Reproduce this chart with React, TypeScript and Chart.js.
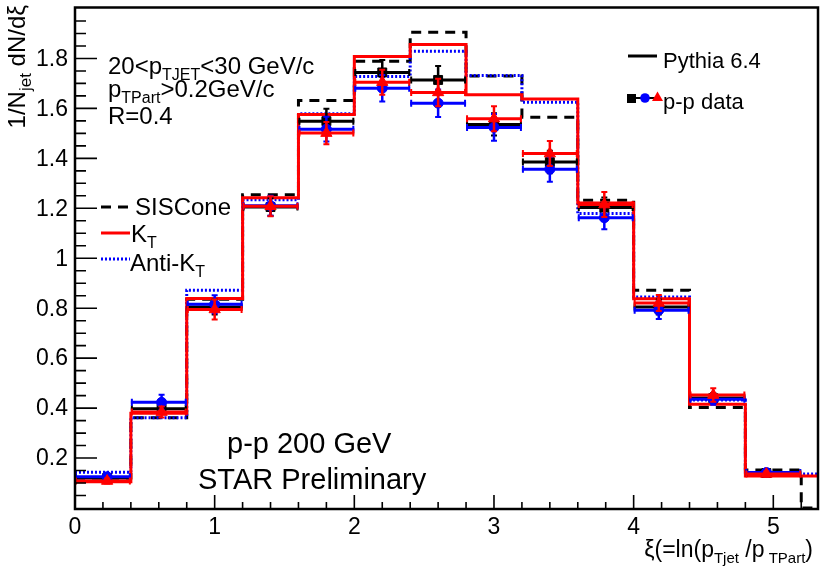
import React, { useEffect, useRef } from "react";
import { Chart, registerables } from "chart.js";
Chart.register(...registerables);

// Bin edges of the histograms (xi)
const binEdges = [0, 0.4, 0.8, 1.2, 1.6, 2.0, 2.4, 2.8, 3.2, 3.6, 4.0, 4.4, 4.8, 5.2, 5.6];

// Pythia 6.4 histograms (one value per bin)
const sisConeHist = [0.12, 0.361, 0.836, 1.254, 1.632, 1.789, 1.905, 1.73, 1.565, 1.232, 0.872, 0.402, 0.152, 0];
const kTHist = [0.105, 0.379, 0.839, 1.242, 1.576, 1.808, 1.856, 1.655, 1.638, 1.221, 0.838, 0.415, 0.128, 0.128];
const antiKTHist = [0.143, 0.361, 0.872, 1.234, 1.579, 1.728, 1.829, 1.732, 1.625, 1.179, 0.845, 0.432, 0.136, 0.136];

// p-p data points
const dataX = [0.23, 0.62, 1.0, 1.4, 1.8, 2.2, 2.6, 3.0, 3.4, 3.79, 4.18, 4.57, 4.95];
const sisConeData = [0.12, 0.397, 0.805, 1.205, 1.549, 1.744, 1.714, 1.536, 1.385, 1.203, 0.805, 0.44, 0.14];
const sisConeErr = [0.008, 0.02, 0.03, 0.035, 0.05, 0.05, 0.056, 0.045, 0.045, 0.04, 0.03, 0.02, 0.01];
const kTData = [0.108, 0.384, 0.795, 1.208, 1.501, 1.705, 1.664, 1.559, 1.419, 1.215, 0.821, 0.452, 0.136];
const kTErr = [0.01, 0.022, 0.04, 0.04, 0.045, 0.05, 0.055, 0.05, 0.05, 0.05, 0.032, 0.027, 0.01];
const antiKTData = [0.125, 0.423, 0.816, 1.21, 1.517, 1.681, 1.621, 1.524, 1.356, 1.162, 0.792, 0.435, 0.142];
const antiKTErr = [0.01, 0.03, 0.036, 0.04, 0.05, 0.053, 0.055, 0.054, 0.05, 0.046, 0.035, 0.022, 0.01];

// Axis ticks
const xMajorTicks = [0, 1, 2, 3, 4, 5];
const yMajorTicks = [0.2, 0.4, 0.6, 0.8, 1, 1.2, 1.4, 1.6, 1.8];

const FONT = '"Liberation Sans", Arial, Helvetica, sans-serif';
const RED = "#ff0000";
const BLUE = "#0000ff";
const BLACK = "#000000";

type Seg = { t: string; sub?: boolean };

function drawRich(
  ctx: CanvasRenderingContext2D,
  segs: Seg[],
  x: number,
  y: number,
  size: number,
  align: "left" | "right" | "center",
  subSize: number,
  subDy: number
) {
  ctx.textBaseline = "alphabetic";
  ctx.textAlign = "left";
  const widths = segs.map((s) => {
    ctx.font = `${s.sub ? subSize : size}px ${FONT}`;
    return ctx.measureText(s.t).width;
  });
  const total = widths.reduce((a, b) => a + b, 0);
  let cx = align === "left" ? x : align === "right" ? x - total : x - total / 2;
  segs.forEach((s, i) => {
    ctx.font = `${s.sub ? subSize : size}px ${FONT}`;
    ctx.fillText(s.t, cx, s.sub ? y + subDy : y);
    cx += widths[i];
  });
}

function histPoints(vals: number[]) {
  const pts: { x: number; y: number }[] = [];
  vals.forEach((v, i) => {
    pts.push({ x: binEdges[i], y: v });
    pts.push({ x: binEdges[i + 1], y: v });
  });
  return pts;
}

const errorBarPlugin = {
  id: "errorBars",
  beforeDatasetDraw(chart: any, args: any) {
    const ds = chart.data.datasets[args.index];
    if (!ds.errY) return;
    const ctx = chart.ctx as CanvasRenderingContext2D;
    const xs = chart.scales.x;
    const ys = chart.scales.y;
    const area = chart.chartArea;
    ctx.save();
    ctx.beginPath();
    ctx.rect(area.left, area.top, area.right - area.left, area.bottom - area.top);
    ctx.clip();
    ctx.strokeStyle = ds.borderColor;
    ds.data.forEach((p: any, i: number) => {
      const yPx = ys.getPixelForValue(p.y);
      const x0 = xs.getPixelForValue(binEdges[i]);
      const x1 = xs.getPixelForValue(binEdges[i + 1]);
      const xc = xs.getPixelForValue(p.x);
      ctx.lineWidth = 3;
      ctx.beginPath();
      ctx.moveTo(x0, yPx);
      ctx.lineTo(x1, yPx);
      ctx.stroke();
      ctx.lineWidth = 2;
      ctx.beginPath();
      ctx.moveTo(x0 + 1, yPx - 3.5);
      ctx.lineTo(x0 + 1, yPx + 3.5);
      ctx.moveTo(x1 - 1, yPx - 3.5);
      ctx.lineTo(x1 - 1, yPx + 3.5);
      ctx.stroke();
      const yTop = ys.getPixelForValue(p.y + ds.errY[i]);
      const yBot = ys.getPixelForValue(p.y - ds.errY[i]);
      ctx.lineWidth = 2.5;
      ctx.beginPath();
      ctx.moveTo(xc, yTop);
      ctx.lineTo(xc, yBot);
      ctx.stroke();
      ctx.lineWidth = 2;
      ctx.beginPath();
      ctx.moveTo(xc - 3, yTop);
      ctx.lineTo(xc + 3, yTop);
      ctx.moveTo(xc - 3, yBot);
      ctx.lineTo(xc + 3, yBot);
      ctx.stroke();
    });
    ctx.restore();
  },
};

const framePlugin = {
  id: "rootFrame",
  afterDraw(chart: any) {
    const ctx = chart.ctx as CanvasRenderingContext2D;
    const xs = chart.scales.x;
    const ys = chart.scales.y;
    const a = chart.chartArea;
    ctx.save();
    ctx.strokeStyle = BLACK;
    ctx.fillStyle = BLACK;
    ctx.lineWidth = 2.5;
    ctx.strokeRect(a.left, a.top, a.right - a.left, a.bottom - a.top);

    ctx.lineWidth = 1.6;
    ctx.beginPath();
    for (let k = 1; k < 40; k++) {
      const v = k * 0.05;
      const y = ys.getPixelForValue(v);
      if (y < a.top + 2) continue;
      const major = k % 4 === 0;
      ctx.moveTo(a.left, y);
      ctx.lineTo(a.left + (major ? 22 : 11), y);
    }
    for (let k = 1; k <= 26; k++) {
      const v = k * 0.2;
      const x = xs.getPixelForValue(v);
      if (x > a.right - 2) continue;
      const major = k % 5 === 0;
      ctx.moveTo(x, a.bottom);
      ctx.lineTo(x, a.bottom - (major ? 14 : 7));
    }
    ctx.stroke();

    ctx.font = `23px ${FONT}`;
    ctx.textAlign = "right";
    ctx.textBaseline = "middle";
    yMajorTicks.forEach((v) => {
      ctx.fillText(String(v), a.left - 7, ys.getPixelForValue(v) + 1);
    });
    ctx.textAlign = "center";
    ctx.textBaseline = "alphabetic";
    xMajorTicks.forEach((v) => {
      ctx.fillText(String(v), xs.getPixelForValue(v), a.bottom + 25);
    });

    drawRich(
      ctx,
      [
        { t: "ξ(=ln(p" },
        { t: "Tjet", sub: true },
        { t: " /p" },
        { t: " TPart", sub: true },
        { t: ")" },
      ],
      813,
      557,
      23,
      "right",
      15,
      6
    );

    ctx.save();
    ctx.translate(25, 5);
    ctx.rotate(-Math.PI / 2);
    drawRich(
      ctx,
      [{ t: "1/N" }, { t: "jet", sub: true }, { t: " dN/dξ" }],
      0,
      0,
      24,
      "right",
      17,
      6
    );
    ctx.restore();

    drawRich(ctx, [{ t: "20<p" }, { t: "TJET", sub: true }, { t: "<30 GeV/c" }], 108, 74, 24, "left", 16, 6);
    drawRich(ctx, [{ t: "p" }, { t: "TPart", sub: true }, { t: ">0.2GeV/c" }], 108, 97, 24, "left", 16, 6);
    drawRich(ctx, [{ t: "R=0.4" }], 108, 124, 24, "left", 16, 6);

    ctx.lineWidth = 3;
    ctx.strokeStyle = BLACK;
    ctx.setLineDash([10, 7]);
    ctx.beginPath();
    ctx.moveTo(101, 207);
    ctx.lineTo(129, 207);
    ctx.stroke();
    ctx.setLineDash([]);
    ctx.strokeStyle = RED;
    ctx.beginPath();
    ctx.moveTo(101, 233);
    ctx.lineTo(130, 233);
    ctx.stroke();
    ctx.strokeStyle = BLUE;
    ctx.setLineDash([2, 2]);
    ctx.beginPath();
    ctx.moveTo(101, 259);
    ctx.lineTo(130, 259);
    ctx.stroke();
    ctx.setLineDash([]);
    ctx.fillStyle = BLACK;
    drawRich(ctx, [{ t: "SISCone" }], 135, 215, 24, "left", 16, 6);
    drawRich(ctx, [{ t: "K" }, { t: "T", sub: true }], 131, 242, 24, "left", 16, 6);
    drawRich(ctx, [{ t: "Anti-K" }, { t: "T", sub: true }], 130, 271, 24, "left", 16, 6);

    ctx.strokeStyle = BLACK;
    ctx.lineWidth = 3;
    ctx.beginPath();
    ctx.moveTo(628, 56);
    ctx.lineTo(657, 56);
    ctx.stroke();
    drawRich(ctx, [{ t: "Pythia 6.4" }], 663, 68, 22, "left", 15, 5);
    ctx.lineWidth = 2;
    ctx.beginPath();
    ctx.moveTo(631, 98);
    ctx.lineTo(657, 98);
    ctx.stroke();
    ctx.fillStyle = BLACK;
    ctx.fillRect(627, 94, 9, 9);
    ctx.fillStyle = BLUE;
    ctx.beginPath();
    ctx.arc(645, 98, 4.8, 0, Math.PI * 2);
    ctx.fill();
    ctx.fillStyle = RED;
    ctx.beginPath();
    ctx.moveTo(657.5, 91.5);
    ctx.lineTo(663, 101);
    ctx.lineTo(652, 101);
    ctx.closePath();
    ctx.fill();
    ctx.fillStyle = BLACK;
    drawRich(ctx, [{ t: "p-p data" }], 663, 109, 22, "left", 15, 5);

    drawRich(ctx, [{ t: "p-p 200 GeV" }], 227, 453, 29, "left", 20, 6);
    drawRich(ctx, [{ t: "STAR Preliminary" }], 198, 489, 29, "left", 20, 6);
    ctx.restore();
  },
};

export default function App() {
  const ref = useRef<HTMLCanvasElement | null>(null);
  useEffect(() => {
    if (!ref.current) return;
    const histDs = (vals: number[], color: string, dash: number[], order: number) => ({
      type: "line",
      data: histPoints(vals),
      borderColor: color,
      borderWidth: 3,
      borderDash: dash,
      pointRadius: 0,
      fill: false,
      tension: 0,
      showLine: true,
      order,
    });
    const dataDs = (vals: number[], errs: number[], color: string, style: string, radius: number, order: number) => ({
      type: "scatter",
      data: dataX.map((x, i) => ({ x, y: vals[i] })),
      errY: errs,
      borderColor: color,
      backgroundColor: color,
      pointStyle: style,
      pointRadius: radius,
      borderWidth: 1,
      showLine: false,
      order,
    });
    const chart = new Chart(ref.current, {
      type: "scatter",
      data: {
        datasets: [
          histDs(sisConeHist, BLACK, [10, 7], 6),
          histDs(antiKTHist, BLUE, [2, 2], 5),
          histDs(kTHist, RED, [], 4),
          dataDs(sisConeData, sisConeErr, BLACK, "rect", 6.3, 3),
          dataDs(antiKTData, antiKTErr, BLUE, "circle", 5, 2),
          dataDs(kTData, kTErr, RED, "triangle", 6.5, 1),
        ] as any,
      },
      options: {
        animation: false,
        responsive: false,
        maintainAspectRatio: false,
        events: [],
        layout: { padding: { left: 75, right: 12, top: 7, bottom: 65 } },
        plugins: { legend: { display: false }, tooltip: { enabled: false } },
        scales: {
          x: { type: "linear", min: 0, max: 5.32, display: false },
          y: { type: "linear", min: -0.004, max: 2.004, display: false },
        },
      } as any,
      plugins: [errorBarPlugin, framePlugin],
    });
    return () => chart.destroy();
  }, []);
  return (
    <div style={{ position: "fixed", left: 0, top: 0, width: 830, height: 574, background: "#fff" }}>
      <canvas ref={ref} width={830} height={574} style={{ width: 830, height: 574, display: "block" }} />
    </div>
  );
}
